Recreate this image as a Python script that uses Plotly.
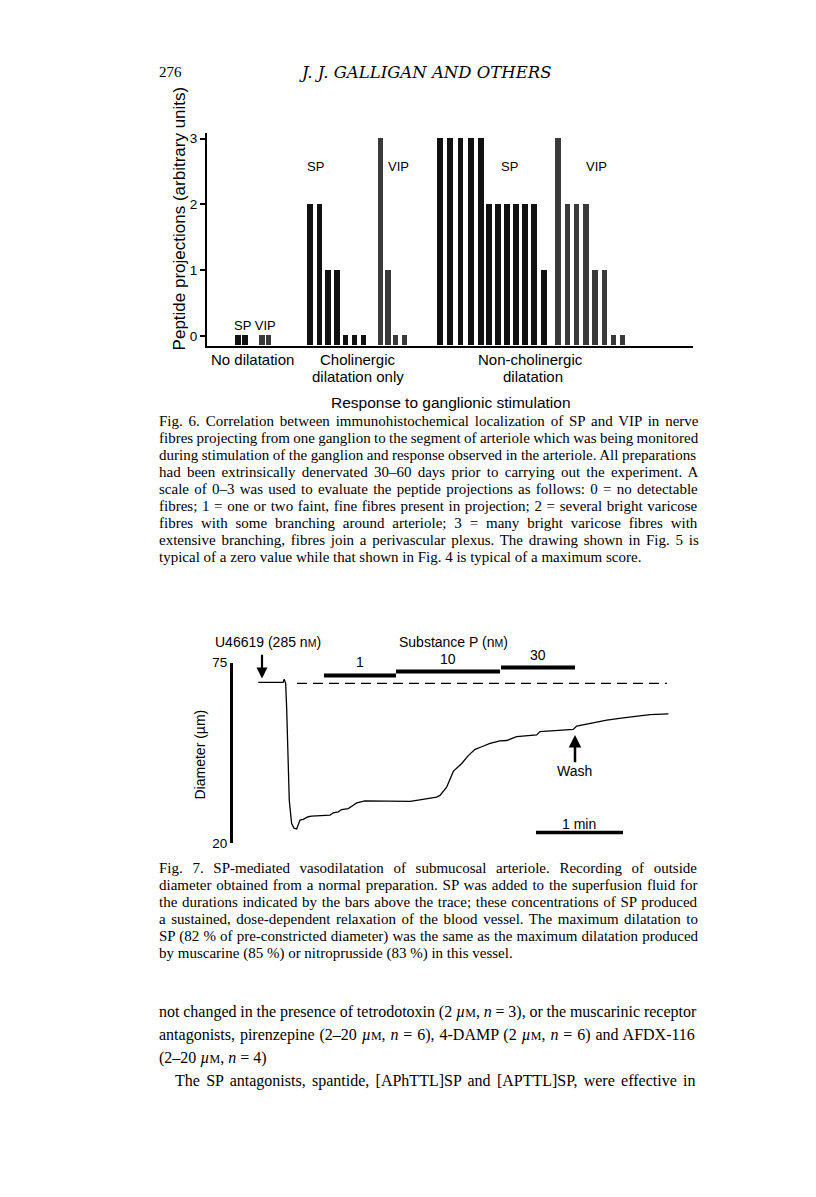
import plotly.graph_objects as go

# page is drawn inside the default 8px body margin of the html page
PAGE_W, PAGE_H = 816, 1197
OFF = 8
W, H = PAGE_W - 2 * OFF, PAGE_H - 2 * OFF

# ---- Fig. 6: peptide projection scores (0-3) per preparation ----
nodil_sp_x = [3.37, 4.13]
nodil_sp = [0, 0]
nodil_vip_x = [5.98, 6.68]
nodil_vip = [0, 0]
chol_sp_x = [11.20, 12.23, 13.15, 14.13, 15.05, 16.03, 17.01]
chol_sp = [2, 2, 1, 1, 0, 0, 0]
chol_vip_x = [18.86, 19.67, 20.49, 21.47]
chol_vip = [3, 1, 0, 0]
nonchol_sp_x = [25.33, 26.41, 27.55, 28.70, 29.78, 30.65, 31.63, 32.61, 33.59, 34.57, 35.54, 36.63]
nonchol_sp = [3, 3, 3, 3, 3, 2, 2, 2, 2, 2, 2, 1]
nonchol_vip_x = [38.15, 39.21, 40.18, 41.20, 42.17, 43.18, 44.20, 45.20]
nonchol_vip = [3, 2, 2, 2, 1, 1, 0, 0]
score_ticks = [0, 1, 2, 3]

# ---- Fig. 7: outside diameter trace (time s, diameter um) ----
t_s = [0.2, 17.4, 18.1, 19.1, 19.8, 20.5, 21.6, 23.2, 24.8, 26.7, 27.8, 29.0, 31.2,
       34.7, 37.0, 42.8, 49.7, 51.9, 55.4, 57.7, 62.3, 65.7, 68.1, 73.8, 84.1, 104.8,
       109.4, 123.2, 125.5, 130.1, 134.7, 140.5, 145.0, 149.7, 154.3, 160.0, 166.9,
       171.5, 178.4, 192.2, 194.5, 207.1, 217.4, 219.8, 229.0, 240.5, 251.9, 263.4,
       270.3, 283.0]
diam_um = [69.0, 69.0, 70.0, 68.7, 61.2, 46.1, 33.1, 26.1, 24.6, 24.4, 25.6, 27.1, 27.3,
           28.1, 28.3, 28.4, 28.6, 29.3, 29.6, 30.3, 30.6, 31.6, 32.3, 32.9, 32.8, 32.8,
           33.1, 34.1, 34.6, 37.1, 41.9, 44.3, 46.7, 48.6, 49.4, 50.4, 51.2,
           51.3, 52.5, 53.0, 54.0, 54.5, 54.7, 55.7, 56.5, 57.5, 58.2, 58.7,
           59.2, 59.4]
precon_t = [26.9, 282.0]
precon_um = 68.7
sp_conc = ["1", "10", "30"]
sp_start = [45.5, 95.2, 167.6]
sp_end = [95.2, 166.9, 218.6]
sp_bar_um = [71.1, 72.3, 73.5]
u466_t = 2.8
wash_t = 218.6
minbar_t = [191.7, 251.7]

SANS = "Liberation Sans, Arial, sans-serif"
SERIF = "Liberation Serif, Times New Roman, serif"
WIDE_SERIF = "DejaVu Serif, serif"


def px(x):
    return (x - OFF) / W


def py(y):
    return 1 - (y - OFF) / H


fig = go.Figure()

BASE = -0.15
for xs, vals, col in [(nodil_sp_x, nodil_sp, "#111111"), (nodil_vip_x, nodil_vip, "#3a3a3a"),
                      (chol_sp_x, chol_sp, "#111111"), (chol_vip_x, chol_vip, "#3a3a3a"),
                      (nonchol_sp_x, nonchol_sp, "#111111"), (nonchol_vip_x, nonchol_vip, "#3a3a3a")]:
    fig.add_trace(go.Bar(x=xs, y=[v - BASE for v in vals], base=BASE, width=0.58,
                         marker=dict(color=col, line=dict(width=0)),
                         xaxis="x", yaxis="y", showlegend=False))

# trace figure
fig.add_trace(go.Scatter(x=t_s, y=diam_um, mode="lines", line=dict(color="black", width=1.3),
                         xaxis="x2", yaxis="y2", showlegend=False))
fig.add_trace(go.Scatter(x=precon_t, y=[precon_um, precon_um], mode="lines",
                         line=dict(color="black", width=1.2, dash="10px,6px"),
                         xaxis="x2", yaxis="y2", showlegend=False))
for s, e, lv in zip(sp_start, sp_end, sp_bar_um):
    fig.add_trace(go.Scatter(x=[s, e], y=[lv, lv], mode="lines", line=dict(color="black", width=4),
                             xaxis="x2", yaxis="y2", showlegend=False, cliponaxis=False))
fig.add_trace(go.Scatter(x=minbar_t, y=[23.3, 23.3], mode="lines", line=dict(color="black", width=3.5),
                         xaxis="x2", yaxis="y2", showlegend=False, cliponaxis=False))

ann = []


def txt(x, y, s, size, font=SANS, xanchor="center", angle=0, ws=None):
    if ws:
        s = "<span style='word-spacing:%.1fpx'>%s</span>" % (ws, s)
    ann.append(dict(x=px(x), y=py(y), xref="paper", yref="paper", text=s, showarrow=False,
                    xanchor=xanchor, yanchor="middle", textangle=angle,
                    font=dict(family=font, size=size, color="black")))


# header
txt(157, 66, "276", 15, SERIF, "left")
txt(425, 66, "<i>J. J. GALLIGAN AND OTHERS</i>", 16.5, WIDE_SERIF)

# fig 6 labels
txt(179, 214, "Peptide projections (arbitrary units)", 17, angle=-90)
txt(255, 322, "SP VIP", 13)
txt(315, 161, "SP", 13)
txt(398, 161, "VIP", 13)
txt(510, 161, "SP", 13)
txt(596, 161, "VIP", 13)
txt(252, 357, "No dilatation", 15)
txt(358, 357, "Cholinergic", 15)
txt(358, 374, "dilatation only", 15)
txt(530, 357, "Non-cholinergic", 15)
txt(533, 374, "dilatation", 15)
txt(451, 400, "Response to ganglionic stimulation", 15.5)

# caption lines with word spacing used to justify them
cap6 = [
    ("Fig. 6. Correlation between immunohistochemical localization of SP and VIP in nerve", 2.1),
    ("fibres projecting from one ganglion to the segment of arteriole which was being monitored", -0.4),
    ("during stimulation of the ganglion and response observed in the arteriole. All preparations", -0.2),
    ("had been extrinsically denervated 30–60 days prior to carrying out the experiment. A", 2.5),
    ("scale of 0–3 was used to evaluate the peptide projections as follows: 0 = no detectable", 1.5),
    ("fibres; 1 = one or two faint, fine fibres present in projection; 2 = several bright varicose", 0.9),
    ("fibres with some branching around arteriole; 3 = many bright varicose fibres with", 4.1),
    ("extensive branching, fibres join a perivascular plexus. The drawing shown in Fig. 5 is", 2.0),
    ("typical of a zero value while that shown in Fig. 4 is typical of a maximum score.", 0),
]
for i, (line, ws) in enumerate(cap6):
    txt(157, 419 + 17.3 * i, line, 15, SERIF, "left", ws=ws)

# fig 7 labels
txt(268, 643, "U46619 (285 n<span style='font-size:10.5px'>M</span>)", 14)
txt(453, 643, "Substance P (n<span style='font-size:10.5px'>M</span>)", 14)
txt(200, 757, "Diameter (µm)", 14, angle=-90)
for c, s, e, lv in zip(sp_conc, sp_start, sp_end, sp_bar_um):
    ann.append(dict(x=(s + e) / 2, y=lv, xref="x2", yref="y2", text=c, showarrow=False,
                    yanchor="bottom", yshift=3, font=dict(family=SANS, size=14, color="black")))
ann.append(dict(x=u466_t, y=70.2, ax=u466_t, ay=77.9, xref="x2", yref="y2", axref="x2", ayref="y2",
                text="", showarrow=True, arrowhead=2, arrowsize=1, arrowwidth=2.2, arrowcolor="black"))
ann.append(dict(x=wash_t, y=53.0, ax=wash_t, ay=44.2, xref="x2", yref="y2", axref="x2", ayref="y2",
                text="", showarrow=True, arrowhead=2, arrowsize=1, arrowwidth=2.5, arrowcolor="black"))
ann.append(dict(x=wash_t, y=42.0, xref="x2", yref="y2", text="Wash", showarrow=False,
                font=dict(family=SANS, size=14, color="black")))
ann.append(dict(x=sum(minbar_t) / 2, y=26.0, xref="x2", yref="y2", text="1 min", showarrow=False,
                font=dict(family=SANS, size=14, color="black")))

cap7 = [
    ("Fig. 7. SP-mediated vasodilatation of submucosal arteriole. Recording of outside", 5.9),
    ("diameter obtained from a normal preparation. SP was added to the superfusion fluid for", 1.1),
    ("the durations indicated by the bars above the trace; these concentrations of SP produced", 0.9),
    ("a sustained, dose-dependent relaxation of the blood vessel. The maximum dilatation to", 1.8),
    ("SP (82 % of pre-constricted diameter) was the same as the maximum dilatation produced", 0.4),
    ("by muscarine (85 %) or nitroprusside (83 %) in this vessel.", 0),
]
for i, (line, ws) in enumerate(cap7):
    txt(157, 872 + 17.35 * i, line, 15, SERIF, "left", ws=ws)

sm = "<span style='font-size:12px'>M</span>"
body = [
    ("not changed in the presence of tetrodotoxin (2 <i>µ</i>" + sm + ", <i>n</i> = 3), or the muscarinic receptor", 157, -0.2),
    ("antagonists, pirenzepine (2–20 <i>µ</i>" + sm + ", <i>n</i> = 6), 4-DAMP (2 <i>µ</i>" + sm + ", <i>n</i> = 6) and AFDX-116", 157, 0.9),
    ("(2–20 <i>µ</i>" + sm + ", <i>n</i> = 4)", 157, 0),
    ("The SP antagonists, spantide, [APhTTL]SP and [APTTL]SP, were effective in", 173, 2.3),
]
for i, (line, x0, ws) in enumerate(body):
    txt(x0, 1018 + 23.4 * i, line, 16, SERIF, "left", ws=ws)

fig.update_layout(
    width=W, height=H, margin=dict(l=0, r=0, t=0, b=0),
    paper_bgcolor="white", plot_bgcolor="white", bargap=0,
    annotations=ann,
    xaxis=dict(domain=[px(207), px(693)], range=[0, 52.83], showline=True, linecolor="black",
               linewidth=2, showticklabels=False, ticks="", showgrid=False, zeroline=False,
               anchor="y", fixedrange=True),
    yaxis=dict(domain=[py(343), py(128)], range=[BASE, 3.08], showline=True, linecolor="black",
               linewidth=2, ticks="outside", ticklen=5, tickwidth=1.5, tickcolor="black",
               tickvals=score_ticks, showgrid=False, zeroline=False, anchor="x",
               tickfont=dict(family=SANS, size=13.5, color="black")),
    xaxis2=dict(domain=[px(233), px(680)], range=[-17.2, 291], visible=False, anchor="y2"),
    yaxis2=dict(domain=[py(847), py(664)], range=[20, 75], showline=True, linecolor="black",
                linewidth=3, ticks="inside", ticklen=6, tickwidth=3, tickcolor="black",
                tickvals=[20, 75], showgrid=False, zeroline=False, anchor="x2",
                tickfont=dict(family=SANS, size=13.5, color="black")),
)

fig.write_html("out.html")
